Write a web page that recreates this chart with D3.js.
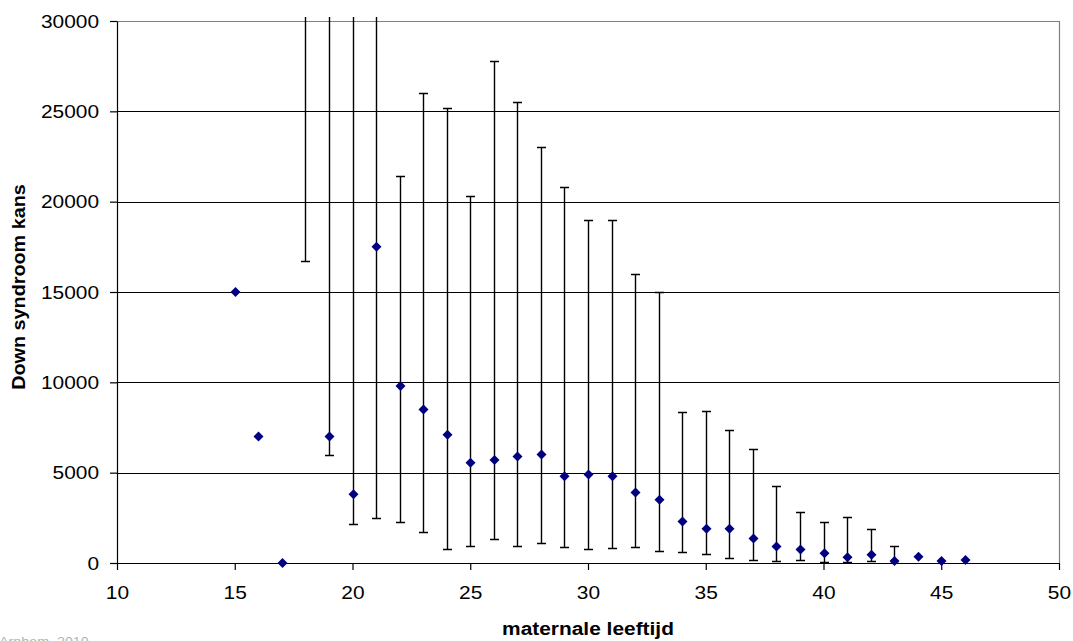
<!DOCTYPE html>
<html>
<head>
<meta charset="utf-8">
<script src="https://cdn.jsdelivr.net/npm/d3@7/dist/d3.min.js"></script>
<style>
  html, body { margin: 0; padding: 0; background: #fff; }
  svg { display: block; font-family: Arial, "Liberation Sans", sans-serif; }
</style>
</head>
<body>
<svg id="chart" width="1073" height="641"></svg>
<script>
// Maternal age (years)
const ages = [15, 16, 17, 18, 19, 20, 21, 22, 23, 24, 25, 26, 27, 28, 29, 30,
              31, 32, 33, 34, 35, 36, 37, 38, 39, 40, 41, 42, 43, 44, 45, 46];
// Estimated Down syndrome odds (1 in N); null = not plotted
const risk = [15000, 7000, 0, null, 7000, 3800, 17500, 9800, 8500, 7100, 5550, 5700, 5900, 6000, 4800, 4900,
              4800, 3900, 3500, 2300, 1900, 1900, 1350, 920, 750, 535, 320, 460, 110, 350, 110, 170];
// Lower and upper bounds of the interval; null = no interval
const lower = [null, null, null, 16700, 6000, 2140, 2500, 2290, 1735, 760, 940, 1310, 940, 1110, 870, 795,
               830, 905, 645, 610, 500, 280, 185, 130, 165, 55, 55, 90, 0, null, null, null];
const upper = [null, null, null, 40000, 40000, 40000, 40000, 21400, 26000, 25200, 20300, 27800, 25500, 23000, 20800, 19000,
               19000, 16000, 15000, 8340, 8400, 7350, 6300, 4280, 2850, 2250, 2550, 1900, 940, null, null, null];

const xTicks = [10, 15, 20, 25, 30, 35, 40, 45, 50];
const yTicks = [0, 5000, 10000, 15000, 20000, 25000, 30000];

const xTitle = "maternale leeftijd";
const yTitle = "Down syndroom kans";
const credit = "Arnhem, 2010";

const width = 1073, height = 641;
const margin = { top: 21, right: 14, bottom: 78, left: 117 };
const innerW = width - margin.left - margin.right;
const innerH = height - margin.top - margin.bottom;
const stretch = 1.1;

const svg = d3.select("#chart");
const g = svg.append("g").attr("transform", `translate(${margin.left},${margin.top})`);

const x = d3.scaleLinear().domain([10, 50]).range([0, innerW]);
const y = d3.scaleLinear().domain([0, 30000]).range([innerH, 0]);

// Horizontal gridlines
g.append("g")
  .selectAll("line")
  .data(yTicks.filter(t => t > 0 && t < 30000))
  .join("line")
  .attr("x1", 0).attr("x2", innerW)
  .attr("y1", d => Math.round(y(d)) + 0.5).attr("y2", d => Math.round(y(d)) + 0.5)
  .attr("stroke", "#000").attr("stroke-width", 1);

// Plot area frame (top and right)
g.append("path")
  .attr("d", `M0,0.5H${innerW + 0.5}V${innerH}`)
  .attr("fill", "none").attr("stroke", "#808080").attr("stroke-width", 1.2);

// Axes
const xAxis = g.append("g")
  .attr("transform", `translate(0,${innerH})`)
  .call(d3.axisBottom(x).tickValues(xTicks).tickFormat(d3.format("d"))
    .tickSize(7).tickPadding(16).tickSizeOuter(0));
const yAxis = g.append("g")
  .call(d3.axisLeft(y).tickValues(yTicks).tickFormat(d3.format("d"))
    .tickSize(7).tickPadding(11).tickSizeOuter(0));

[xAxis, yAxis].forEach(ax => {
  ax.select(".domain").attr("stroke", "#000").attr("stroke-width", 1.2);
  ax.selectAll(".tick line").attr("stroke", "#000").attr("stroke-width", 1.2);
  ax.selectAll(".tick text")
    .attr("fill", "#000")
    .style("font-size", "19px")
    .style("font-family", "Arial, 'Liberation Sans', sans-serif");
});
xAxis.selectAll(".tick text").attr("dy", "0.71em").attr("transform", `scale(${stretch},1)`);
yAxis.selectAll(".tick text").attr("transform", `scale(${stretch},1)`).attr("x", -18 / stretch);
xAxis.select(".domain").attr("d", `M0,0.5H${innerW}`);

// Error bars, clipped just above the plot area
svg.append("clipPath").attr("id", "clip")
  .append("rect").attr("x", -10).attr("y", -4).attr("width", innerW + 20).attr("height", innerH + 4);

const bars = ages.map((a, i) => ({ age: a, lo: lower[i], hi: upper[i] })).filter(d => d.lo !== null);
const eb = g.append("g").attr("clip-path", "url(#clip)");
const cap = 4.5;
eb.selectAll("path")
  .data(bars)
  .join("path")
  .attr("d", d => {
    const cx = Math.round(x(d.age)) + 0.5;
    const y0 = Math.round(y(d.lo)) + 0.5, y1 = Math.round(y(d.hi)) + 0.5;
    return `M${cx},${y0}V${y1}M${cx - cap},${y0}H${cx + cap}M${cx - cap},${y1}H${cx + cap}`;
  })
  .attr("fill", "none").attr("stroke", "#000").attr("stroke-width", 1.4);

// Point estimates
const pts = ages.map((a, i) => ({ age: a, v: risk[i] })).filter(d => d.v !== null);
const r = 5;
g.append("g")
  .selectAll("path")
  .data(pts)
  .join("path")
  .attr("transform", d => `translate(${Math.round(x(d.age)) + 0.5},${y(d.v)})`)
  .attr("d", `M0,${-r}L${r},0L0,${r}L${-r},0Z`)
  .attr("fill", "#000080");

// Axis titles
svg.append("text")
  .attr("transform", `translate(${margin.left + innerW / 2},${635}) scale(${stretch},1)`)
  .attr("text-anchor", "middle")
  .style("font-size", "19px").style("font-weight", "bold")
  .text(xTitle);

svg.append("text")
  .attr("transform", `translate(${25},${287}) rotate(-90) scale(${stretch},1)`)
  .attr("text-anchor", "middle")
  .style("font-size", "18px").style("font-weight", "bold")
  .text(yTitle);

// Source credit in the bottom corner
svg.append("text")
  .attr("transform", `translate(-1,646) scale(${stretch},1)`)
  .attr("fill", "#b4b4b4")
  .style("font-size", "13px")
  .text(credit);
</script>
</body>
</html>
